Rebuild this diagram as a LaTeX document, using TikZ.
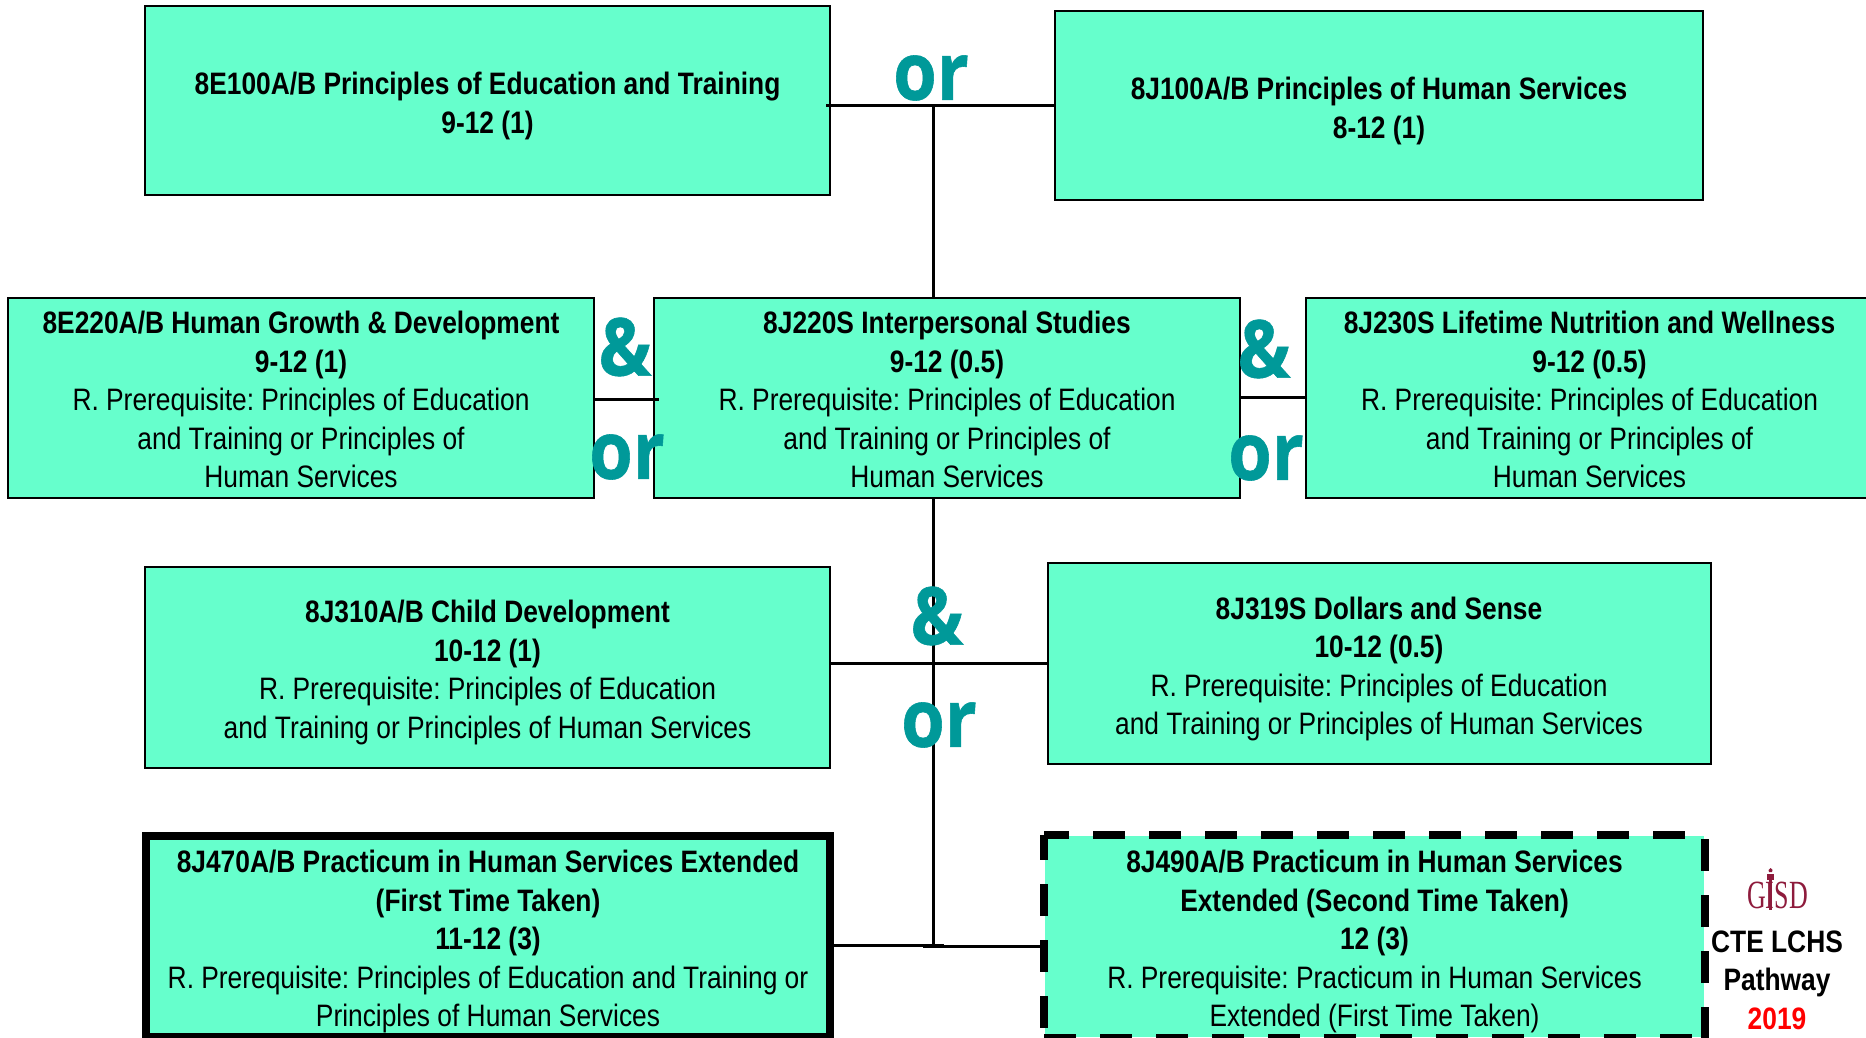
\documentclass[tikz,border=0pt]{standalone}
\usepackage{fontspec}
\setmainfont[FakeStretch=0.85]{Liberation Sans}
\newfontfamily\opensans[FakeStretch=0.88,BoldFeatures={FakeStretch=0.88,FakeBold=0.7}]{Open Sans}
\newfontfamily\logofont[FakeStretch=0.65]{Liberation Serif}
\definecolor{boxfill}{HTML}{66FFCC}
\definecolor{tealmark}{HTML}{009999}
\definecolor{logored}{HTML}{8E1B3C}
\newcommand{\dropbig}{\rule{0pt}{33pt}}
\newcommand{\dropsmall}{\rule{0pt}{27pt}}
\tikzset{
  x=1pt,y=-1pt,
  course/.style={draw=black,line width=2pt,fill=boxfill,inner sep=0pt,align=center,
    font=\frenchspacing\fontsize{31}{38.5}\selectfont},
  link/.style={draw=black,line width=3pt},
  joiner/.style={text=tealmark,font=\opensans\bfseries\fontsize{80}{80}\selectfont,inner sep=0pt},
  sidetext/.style={inner sep=0pt,align=center,font=\bfseries\fontsize{31}{38.5}\selectfont},
  dashline/.style={draw=black,line width=8pt,dash pattern=on 32pt off 24pt},
}
\begin{document}
\begin{tikzpicture}
\useasboundingbox (0,0) rectangle (1866,1038);
\fill[white] (0,0) rectangle (1866,1038);
% junctions
\coordinate (j1) at (933.5,105.5);
\coordinate (j2) at (933.5,663);
\coordinate (j3) at (933.5,946);
\coordinate (j3l) at (944,945.5);
\coordinate (j3r) at (923,946.5);
\coordinate (l12) at (826,105.5);
\coordinate (l34) at (659,399);
\coordinate (l45) at (1240,397);
\coordinate (l89) at (826,945.5);
\node[course,minimum width=685,minimum height=189] (b1) at (487.5,100.5)
  {\dropbig\textbf{8E100A/B Principles of Education and Training}\\\textbf{9-12 (1)}};
\node[course,minimum width=648,minimum height=189] (b2) at (1379,105.5)
  {\dropbig\textbf{8J100A/B Principles of Human Services}\\\textbf{8-12 (1)}};
\node[course,minimum width=586,minimum height=200] (b3) at (301,397.5)
  {\dropsmall\textbf{8E220A/B Human Growth \& Development}\\\textbf{9-12 (1)}\\R. Prerequisite: Principles of Education\\and Training or Principles of\\Human Services};
\node[course,minimum width=586,minimum height=200] (b4) at (947,397.5)
  {\dropsmall\textbf{8J220S Interpersonal Studies}\\\textbf{9-12 (0.5)}\\R. Prerequisite: Principles of Education\\and Training or Principles of\\Human Services};
\node[course,minimum width=568,minimum height=200] (b5) at (1589.5,397.5)
  {\dropsmall\textbf{8J230S Lifetime Nutrition and Wellness}\\\textbf{9-12 (0.5)}\\R. Prerequisite: Principles of Education\\and Training or Principles of\\Human Services};
\node[course,minimum width=685,minimum height=201] (b6) at (487.5,667)
  {\dropbig\textbf{8J310A/B Child Development}\\\textbf{10-12 (1)}\\R. Prerequisite: Principles of Education\\and Training or Principles of Human Services};
\node[course,minimum width=663,minimum height=201] (b7) at (1379,663.5)
  {\dropbig\textbf{8J319S Dollars and Sense}\\\textbf{10-12 (0.5)}\\R. Prerequisite: Principles of Education\\and Training or Principles of Human Services};
\node[course,line width=8pt,minimum width=684,minimum height=201] (b8) at (488,936.5)
  {\dropbig\textbf{8J470A/B Practicum in Human Services Extended}\\\textbf{(First Time Taken)}\\\textbf{11-12 (3)}\\R. Prerequisite: Principles of Education and Training or\\Principles of Human Services};
\node[course,draw=none,minimum width=659,minimum height=201] (b9) at (1374.5,936.5)
  {\dropbig\textbf{8J490A/B Practicum in Human Services}\\\textbf{Extended (Second Time Taken)}\\\textbf{12 (3)}\\R. Prerequisite: Practicum in Human Services\\Extended (First Time Taken)};
\draw[dashline,dash phase=7pt] (b9.north west) -- (b9.north east) -- (b9.south east);
\draw[dashline,dash phase=7pt] (b9.north west) -- (b9.south west);
\draw[dashline] (b9.south west) -- (b9.south east);
\draw[link] (l12) -- (b2.west |- l12);
\draw[link] (j1) -- (b4.north -| j1);
\draw[link] (b3.east |- l34) -- (l34);
\draw[link] (l45) -- (b5.west |- l45);
\draw[link] (b4.south -| j3) -- (j3);
\draw[link] (b6.east |- j2) -- (b7.west |- j2);
\draw[link] (l89) -- (j3l);
\draw[link] (j3r) -- (b9.west |- j3r);
% joiners
\node[joiner] (or1) at (931,78) {or};
\node[joiner] (amp1) at (625,347) {\&};
\node[joiner] (or2) at (627,457) {or};
\node[joiner] (amp2) at (1264,349) {\&};
\node[joiner] (or3) at (1266,458) {or};
\node[joiner] (amp3) at (937,616) {\&};
\node[joiner] (or4) at (939,725) {or};
% logo and side text
\node[inner sep=0pt,text=logored,font=\logofont\fontsize{40}{40}\selectfont] (logo) at (1777.5,895) {GISD};
\fill[logored] (1769,872) -- (1772,872) -- (1772.5,870) -- (1770.5,868) -- (1768.5,870) -- cycle;
\fill[logored] (1767,874) rectangle (1774,880);
\fill[logored] (1769,880) rectangle (1772,910);
\node[sidetext] (cte) at (1777,980) {CTE LCHS\\Pathway\\\textcolor{red}{2019}};
\end{tikzpicture}
\end{document}
